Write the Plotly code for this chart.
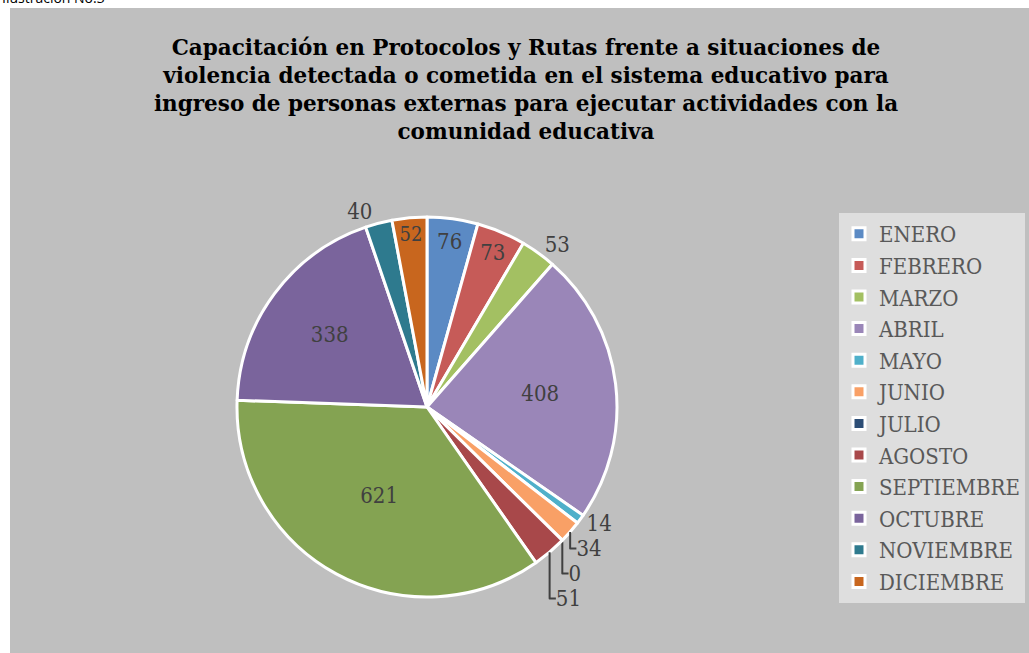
import plotly.graph_objects as go

# monthly values
months = ['ENERO', 'FEBRERO', 'MARZO', 'ABRIL', 'MAYO', 'JUNIO', 'JULIO',
          'AGOSTO', 'SEPTIEMBRE', 'OCTUBRE', 'NOVIEMBRE', 'DICIEMBRE']
values = [76, 73, 53, 408, 14, 34, 0, 51, 621, 338, 40, 52]

colors = ['#5B8AC4', '#C65B58', '#A3C062', '#9A86B8', '#4FB0CA', '#F9A066',
          '#2C4D75', '#A8484A', '#84A352', '#7A649C', '#2E7A8E', '#C8661E']

label_pos = ['inside', 'inside', 'outside', 'inside', 'outside', 'outside',
             'outside', 'outside', 'inside', 'inside', 'outside', 'inside']

title = ('Capacitación en Protocolos y Rutas frente a situaciones de<br>'
         'violencia detectada o cometida en el sistema educativo para<br>'
         'ingreso de personas externas para ejecutar actividades con la<br>'
         'comunidad educativa')

W, H = 1029, 653
serif = 'DejaVu Serif Condensed, DejaVu Serif, serif'

fig = go.Figure()
fig.add_trace(go.Pie(labels=months,
                     values=values,
                     sort=False,
                     direction='clockwise',
                     rotation=0,
                     marker=dict(colors=colors, line=dict(color='white', width=3)),
                     textinfo='value',
                     textposition=label_pos,
                     insidetextorientation='horizontal',
                     textfont=dict(family=serif, size=22, color='#404040'),
                     domain=dict(x=[(427 - 190) / W, (427 + 190) / W],
                                 y=[(H - 597) / H, (H - 217) / H]),
                     ))

fig.update_layout(
    width=W, height=H,
    margin=dict(l=0, r=0, t=0, b=0),
    paper_bgcolor='#BFBFBF',
    title=dict(text=title, x=526 / W, xanchor='center', y=(H - 55) / H, yanchor='top',
               font=dict(family='DejaVu Serif', size=21.5, color='black', weight='bold')),
    legend=dict(x=839 / W, xanchor='left', y=(H - 408) / H, yanchor='middle',
                bgcolor='#DEDEDE', itemwidth=30,
                font=dict(family=serif, size=22, color='#595959')),
    shapes=[dict(type='rect', xref='paper', yref='paper', x0=0, x1=1,
                 y0=(H - 8) / H, y1=1, fillcolor='white', line_width=0, layer='below'),
            dict(type='rect', xref='paper', yref='paper', x0=0, x1=10 / W,
                 y0=0, y1=1, fillcolor='white', line_width=0, layer='below')],
    annotations=[dict(text='Ilustración No.3', xref='paper', yref='paper', x=0, y=1,
                      xanchor='left', yanchor='middle', yshift=3, showarrow=False,
                      font=dict(family='Open Sans', size=14, color='black'))],
)

# page margin off so the figure sits at the window's corner
fig.write_html('out.html', config={'displayModeBar': False},
               post_script="document.body.style.margin='0px';")
